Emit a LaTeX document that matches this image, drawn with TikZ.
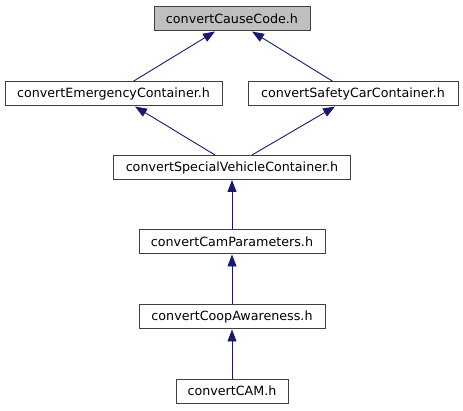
\documentclass[tikz,border=0pt]{standalone}
\usepackage{fontspec}
\setmainfont{DejaVu Sans}
\usetikzlibrary{arrows.meta}
\definecolor{boxline}{HTML}{404040}
\definecolor{boxgray}{HTML}{BFBFBF}
\definecolor{edgeblue}{HTML}{191970}
\tikzset{
  filebox/.style={draw=boxline, line width=1pt, fill=white, minimum height=24pt, inner sep=0pt,
    font=\fontsize{12.7}{15}\selectfont, text=black},
  depedge/.style={draw=edgeblue, line width=0.9pt, {Triangle[length=12pt,width=9pt]}-{}},
}
\begin{document}
\begin{tikzpicture}[x=1pt,y=-1pt]
\useasboundingbox (0,0) rectangle (463,411);
\node[filebox, fill=boxgray, minimum width=156pt] (cause) at (232,19) {convertCauseCode.h};
\node[filebox, minimum width=217pt] (emer) at (113.5,94) {convertEmergencyContainer.h};
\node[filebox, minimum width=210pt] (safe) at (353,94) {convertSafetyCarContainer.h};
\node[filebox, minimum width=237pt] (spec) at (232,167.5) {convertSpecialVehicleContainer.h};
\node[filebox, minimum width=186pt] (camp) at (232,242) {convertCamParameters.h};
\node[filebox, minimum width=186pt] (coop) at (232,317) {convertCoopAwareness.h};
\node[filebox, minimum width=112pt] (cam) at (232,391) {convertCAM.h};
\draw[depedge] ([xshift=-17pt]cause.south) -- ([xshift=19.5pt]emer.north);
\draw[depedge] ([xshift=20pt]cause.south) -- ([xshift=-20pt]safe.north);
\draw[depedge] ([xshift=21.5pt]emer.south) -- ([xshift=-17pt]spec.north);
\draw[depedge] ([xshift=-18pt]safe.south) -- ([xshift=20pt]spec.north);
\draw[depedge] (spec.south) -- (camp.north);
\draw[depedge] (camp.south) -- (coop.north);
\draw[depedge] (coop.south) -- (cam.north);
\end{tikzpicture}
\end{document}
